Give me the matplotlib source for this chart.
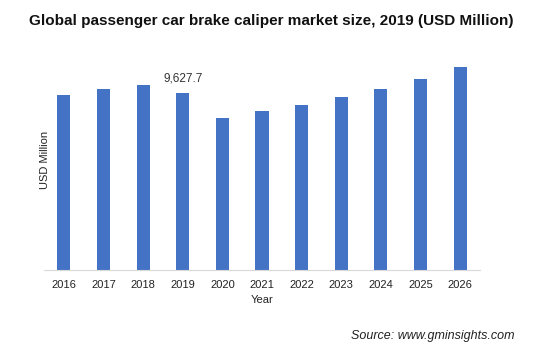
import matplotlib.pyplot as plt

plt.rcParams['font.family'] = ['Liberation Sans', 'DejaVu Sans']

# datos (USD Million)
years = ['2016', '2017', '2018', '2019', '2020', '2021', '2022', '2023', '2024', '2025', '2026']
values = [9519, 9861, 10062, 9627.7, 8284, 8648, 8975, 9410, 9861, 10389, 11041]

fig = plt.figure(figsize=(5.43, 3.53), dpi=100)
ax = fig.add_axes([0.081, 0.235, 0.803, 0.623])

x = range(len(years))
ax.bar(x, values, width=0.33, color='#4472C4')
ax.set_xlim(-0.5, len(years) - 0.5)
ax.set_ylim(0, 11966)

# etiqueta solo para 2019
ax.text(3, values[3] + 480, '9,627.7', ha='center', va='bottom', fontsize=8.5, color='#333333')

ax.set_xticks(list(x))
ax.set_xticklabels(years, fontsize=8, color='#222222')
ax.tick_params(axis='x', length=0, pad=7)
ax.set_yticks([])
for s in ['top', 'right', 'left']:
    ax.spines[s].set_visible(False)
ax.spines['bottom'].set_color('#d9d9d9')

ax.set_xlabel('Year', fontsize=8, color='#222222', labelpad=4)
ax.set_ylabel('USD Million', fontsize=8, color='#222222', labelpad=-4)

fig.text(0.5, 0.94, 'Global passenger car brake caliper market size, 2019 (USD Million)',
         ha='center', va='center', fontsize=11, fontweight='bold', color='#111111')
fig.text(0.948, 0.048, 'Source: www.gminsights.com', ha='right', va='center',
         fontsize=9, style='italic', color='#222222')

fig.savefig('out.png', dpi=100)
